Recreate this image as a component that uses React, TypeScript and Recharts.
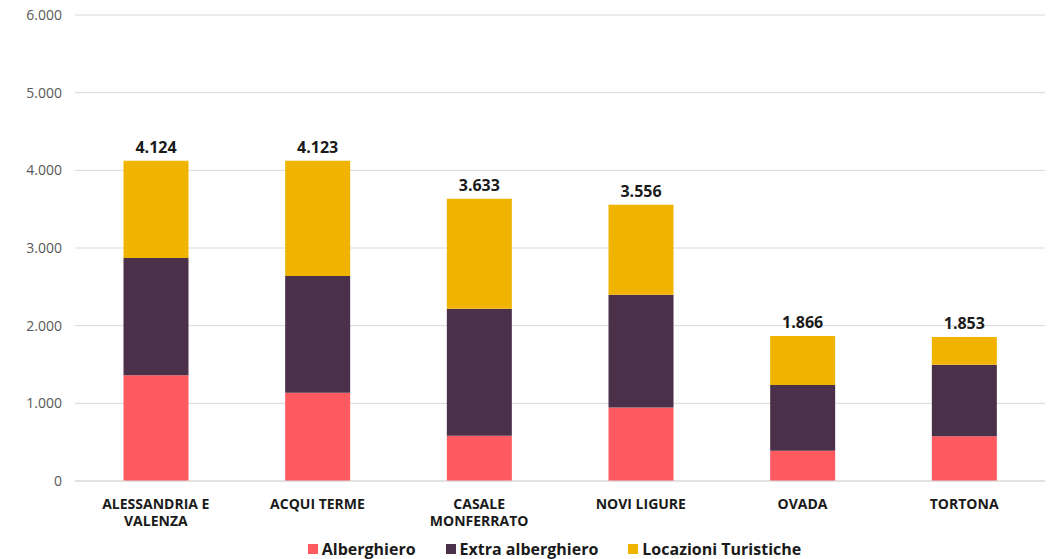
import React from "react";
import {
  BarChart,
  Bar,
  XAxis,
  YAxis,
  CartesianGrid,
  Legend,
  LabelList,
  Text,
} from "recharts";

const categories = [
  "ALESSANDRIA E VALENZA",
  "ACQUI TERME",
  "CASALE MONFERRATO",
  "NOVI LIGURE",
  "OVADA",
  "TORTONA",
];
const alberghiero = [1360, 1137, 582, 947, 389, 577];
const extraAlberghiero = [1511, 1502, 1637, 1452, 846, 920];
const locazioni = [1253, 1484, 1414, 1157, 631, 356];
const yTicks = [0, 1000, 2000, 3000, 4000, 5000, 6000];

const seriesNames = ["Alberghiero", "Extra alberghiero", "Locazioni Turistiche"];
const colors = ["#FF5A5F", "#4B3049", "#F0B400"];

const data = categories.map((c, i) => ({
  name: c,
  Alberghiero: alberghiero[i],
  "Extra alberghiero": extraAlberghiero[i],
  "Locazioni Turistiche": locazioni[i],
  total: alberghiero[i] + extraAlberghiero[i] + locazioni[i],
}));

const fmt = (v: number) => String(v).replace(/\B(?=(\d{3})+(?!\d))/g, ".");

const FONT = "'Open Sans', sans-serif";

function CatTick(props: any) {
  const { x, y, payload } = props;
  return (
    <Text
      x={x}
      y={y + 10}
      width={140}
      textAnchor="middle"
      verticalAnchor="start"
      fontSize={14}
      fontWeight={700}
      fontFamily={FONT}
      fill="#1a1a1a"
      lineHeight={17}
    >
      {payload.value}
    </Text>
  );
}

function LegendBox() {
  return (
    <div
      style={{
        display: "flex",
        justifyContent: "center",
        gap: 30,
        fontFamily: FONT,
        fontSize: 16,
        fontWeight: 700,
        color: "#1a1a1a",
        lineHeight: "20px",
        paddingLeft: 64,
      }}
    >
      {seriesNames.map((n, i) => (
        <span key={n} style={{ display: "flex", alignItems: "center" }}>
          <span
            style={{
              width: 10,
              height: 10,
              background: colors[i],
              display: "inline-block",
              marginRight: 4,
            }}
          />
          {n}
        </span>
      ))}
    </div>
  );
}

export default function App() {
  return (
    <div style={{ position: "absolute", left: 0, top: 0, background: "#fff" }}>
      <BarChart
        width={1053}
        height={559}
        data={data}
        margin={{ top: 15, right: 8, left: 0, bottom: 0 }}
        barCategoryGap="30%"
      >
        <CartesianGrid vertical={false} stroke="#d9d9d9" />
        <XAxis
          dataKey="name"
          tick={<CatTick />}
          tickLine={false}
          axisLine={{ stroke: "#d9d9d9" }}
          height={58}
          interval={0}
        />
        <YAxis
          ticks={yTicks}
          domain={[0, 6000]}
          tickFormatter={fmt}
          tick={{ fontSize: 14, fill: "#595959", fontFamily: FONT }}
          tickLine={false}
          axisLine={false}
          tickMargin={7}
          width={75}
        />
        <Legend content={<LegendBox />} />
        {seriesNames.map((n, i) => (
          <Bar
            key={n}
            dataKey={n}
            stackId="a"
            fill={colors[i]}
            isAnimationActive={false}
          >
            {i === seriesNames.length - 1 && (
              <LabelList
                dataKey="total"
                position="top"
                offset={8}
                formatter={(v: any) => fmt(Number(v))}
                style={{ fontSize: 16, fontWeight: 700, fill: "#1a1a1a", fontFamily: FONT }}
              />
            )}
          </Bar>
        ))}
      </BarChart>
    </div>
  );
}
